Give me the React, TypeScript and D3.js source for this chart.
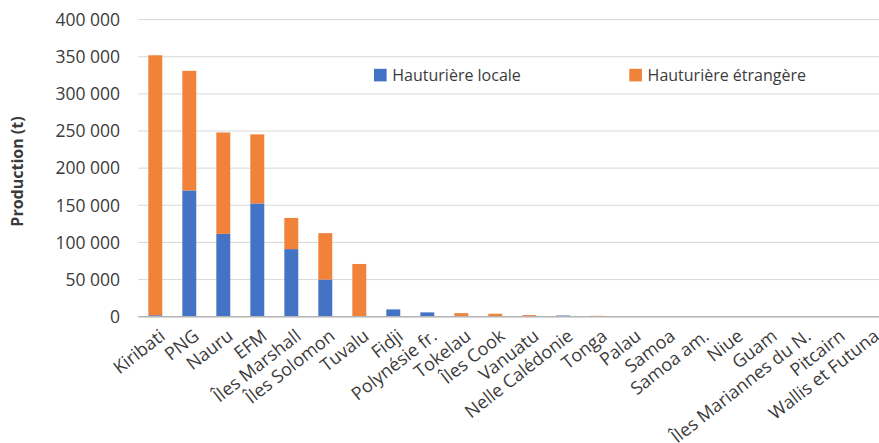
import React from "react";
import * as d3 from "d3";

// Production par territoire (t)
const categories: string[] = [
  "Kiribati", "PNG", "Nauru", "EFM", "Îles Marshall", "Îles Solomon", "Tuvalu",
  "Fidji", "Polynésie fr.", "Tokelau", "Îles Cook", "Vanuatu", "Nelle Calédonie",
  "Tonga", "Palau", "Samoa", "Samoa am.", "Niue", "Guam", "Îles Mariannes du N.",
  "Pitcairn", "Wallis et Futuna",
];
const hauturiereLocale: number[] = [
  2000, 170000, 111500, 152500, 91000, 50000, 0,
  9800, 5800, 0, 0, 0, 1600,
  0, 0, 600, 500, 0, 0, 0,
  0, 0,
];
const hauturiereEtrangere: number[] = [
  350000, 161000, 136500, 93000, 42000, 62500, 71000,
  0, 0, 4800, 4000, 2200, 0,
  1200, 800, 0, 0, 0, 0, 0,
  0, 0,
];
const yTicks: number[] = [0, 50000, 100000, 150000, 200000, 250000, 300000, 350000, 400000];
const seriesNames: string[] = ["Hauturière locale", "Hauturière étrangère"];
const seriesColors: string[] = ["#4472C4", "#F0823A"];

const W = 879;
const H = 443;
const FONT = "'Open Sans', sans-serif";
const TEXT = "#3b3b3b";

const fmt = (v: number) => d3.format(",")(v).replace(/,/g, " ");

export default function App() {
  const x = d3.scaleBand<string>().domain(categories).range([138.3, 886.3]).paddingInner(0.59).paddingOuter(0.295);
  const y = d3.scaleLinear().domain([0, 400000]).range([316.7, 19.6]);

  const rows = categories.map((c, i) => ({ c, local: hauturiereLocale[i], etr: hauturiereEtrangere[i] }));
  const stack = d3.stack<any>().keys(["local", "etr"])(rows);

  return (
    <svg width={W} height={H} style={{ position: "absolute", left: 0, top: 0, background: "#fff" }}>
      {/* grille */}
      {yTicks.map((t) => (
        <line key={"g" + t} x1={138.3} x2={W} y1={y(t)} y2={y(t)} stroke="#D9D9D9" strokeWidth={1} />
      ))}
      {/* barres empilées */}
      {stack.map((layer, si) =>
        layer.map((d, i) => {
          const h = y(d[0]) - y(d[1]);
          if (h <= 0) return null;
          return (
            <rect
              key={si + "-" + i}
              x={x(categories[i])}
              width={x.bandwidth()}
              y={y(d[1])}
              height={h}
              fill={seriesColors[si]}
            />
          );
        })
      )}
      {/* axe horizontal */}
      <line x1={138.3} x2={W} y1={y(0)} y2={y(0)} stroke="#B5B5B5" strokeWidth={1.5} />
      {/* graduations de l'axe vertical */}
      {yTicks.map((t) => (
        <text
          key={"t" + t}
          x={120}
          y={y(t)}
          dy="0.36em"
          textAnchor="end"
          fontFamily={FONT}
          fontSize={17.5}
          fill={TEXT}
        >
          {fmt(t)}
        </text>
      ))}
      <text
        transform={`translate(23,171.5) rotate(-90)`}
        textAnchor="middle"
        fontFamily={FONT}
        fontWeight="bold"
        fontSize={16}
        fill={TEXT}
      >
        Production (t)
      </text>
      {/* étiquettes des catégories, inclinées */}
      {categories.map((c) => {
        const cx = (x(c) as number) + x.bandwidth() / 2;
        return (
          <text
            key={"c" + c}
            transform={`translate(${cx + 3},328) rotate(-38)`}
            dy="0.72em"
            textAnchor="end"
            fontFamily={FONT}
            fontSize={18}
            fill={TEXT}
          >
            {c}
          </text>
        );
      })}
      {/* légende */}
      {seriesNames.map((n, i) => {
        const lx = [374, 629.3][i];
        return (
          <g key={"l" + n}>
            <rect x={lx} y={68.8} width={12.6} height={12.6} fill={seriesColors[i]} />
            <text x={lx + 18.3} y={75} dy="0.36em" fontFamily={FONT} fontSize={16} fill={TEXT}>
              {n}
            </text>
          </g>
        );
      })}
    </svg>
  );
}
